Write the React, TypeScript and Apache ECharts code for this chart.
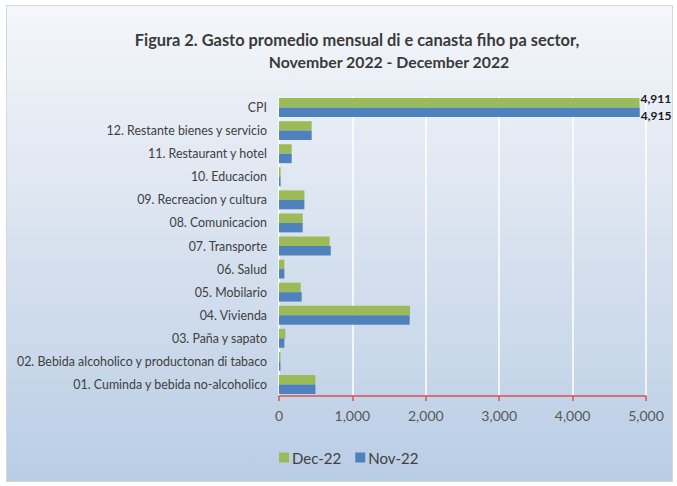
import React, { useEffect, useRef } from "react";
import * as echarts from "echarts";

const categories = [
  "CPI",
  "12. Restante bienes y servicio",
  "11. Restaurant y hotel",
  "10. Educacion",
  "09. Recreacion y cultura",
  "08. Comunicacion",
  "07. Transporte",
  "06. Salud",
  "05. Mobilario",
  "04. Vivienda",
  "03. Paña y sapato",
  "02. Bebida alcoholico y productonan di tabaco",
  "01. Cuminda y bebida no-alcoholico",
];
const dec22 = [4911, 445, 173, 22, 346, 323, 690, 73, 296, 1785, 87, 20, 496];
const nov22 = [4915, 445, 173, 22, 346, 323, 705, 73, 309, 1780, 73, 20, 496];
const labelledCategories = ["CPI"];
const xTicks = { min: 0, max: 5000, interval: 1000 };
const titleLines = [
  "Figura 2. Gasto promedio mensual di e canasta fiho pa sector,",
  "November 2022 - December 2022",
];

const FONT = "Lato, 'Noto Sans', sans-serif";

function buildData(values: number[], dy: number) {
  return values.map((v, i) =>
    labelledCategories.includes(categories[i])
      ? {
          value: v,
          label: {
            show: true,
            position: "right",
            distance: 1,
            offset: [0, dy],
            formatter: (p: any) => Number(p.value).toLocaleString("en-US"),
            fontFamily: FONT,
            fontWeight: "bold",
            fontSize: 12,
            color: "#1a1a1a",
          },
        }
      : v
  );
}

export default function App() {
  const ref = useRef<HTMLDivElement>(null);
  useEffect(() => {
    if (!ref.current) return;
    const chart = echarts.init(ref.current, null, { renderer: "svg" });
    chart.setOption({
      animation: false,
      backgroundColor: "transparent",
      textStyle: { fontFamily: FONT },
      title: [
        {
          text: titleLines[0],
          left: 352,
          textAlign: "center",
          top: 26,
          textStyle: { fontFamily: FONT, fontWeight: "bold", fontSize: 16.4, color: "#3a3a3a" },
        },
        {
          text: titleLines[1],
          left: 384,
          textAlign: "center",
          top: 48,
          textStyle: { fontFamily: FONT, fontWeight: "bold", fontSize: 15.8, color: "#3a3a3a" },
        },
      ],
      legend: {
        data: ["Dec-22", "Nov-22"],
        bottom: 16,
        left: 274,
        itemWidth: 10,
        itemHeight: 10,
        itemGap: 14,
        icon: "rect",
        textStyle: { fontFamily: FONT, fontSize: 15, color: "#404040", padding: [0, 0, 0, -2] },
      },
      grid: { left: 279, right: 31, top: 96, bottom: 90, containLabel: false, outerBoundsMode: "none" },
      xAxis: {
        type: "value",
        min: xTicks.min,
        max: xTicks.max,
        interval: xTicks.interval,
        axisLine: { show: true, lineStyle: { color: "#d9534f", width: 1.5 } },
        axisTick: { show: true, length: 5, lineStyle: { color: "#d9534f", width: 1.5 } },
        splitLine: { show: true, lineStyle: { color: "#ffffff", width: 1.5 } },
        axisLabel: {
          fontFamily: FONT,
          fontSize: 14,
          color: "#595959",
          margin: 12,
          formatter: (v: number) => v.toLocaleString("en-US"),
        },
      },
      yAxis: {
        type: "category",
        data: categories,
        inverse: true,
        axisLine: { show: false },
        axisTick: { show: false },
        axisLabel: { fontFamily: FONT, fontSize: 12.4, color: "#404040", margin: 12 },
      },
      series: [
        {
          name: "Dec-22",
          type: "bar",
          data: buildData(dec22, -4),
          itemStyle: { color: "#9bbb59" },
          barGap: "0%",
          barCategoryGap: "18%",
        },
        {
          name: "Nov-22",
          type: "bar",
          data: buildData(nov22, 3),
          itemStyle: { color: "#4f81bd" },
          barGap: "0%",
          barCategoryGap: "18%",
        },
      ],
    });
    return () => chart.dispose();
  }, []);
  return (
    <div style={{ position: "absolute", left: 0, top: 0, width: 677, height: 486, background: "#ffffff" }}>
      <div
        style={{
          position: "absolute",
          left: 6,
          top: 5,
          width: 665,
          height: 475,
          border: "1px solid #d4d8de",
          background: "linear-gradient(#f4f6fa 0%, #dbe4f0 45%, #b9cde5 100%)",
        }}
      />
      <div ref={ref} style={{ position: "absolute", left: 0, top: 0, width: 677, height: 486 }} />
    </div>
  );
}
